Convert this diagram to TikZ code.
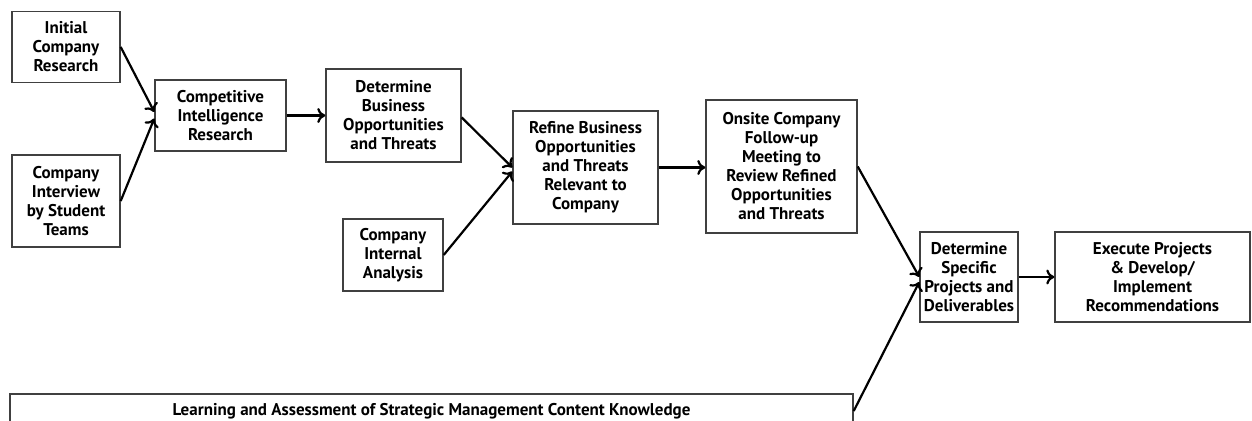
\documentclass[tikz,border=0pt]{standalone}
\usepackage{fontspec}
\setmainfont{PT Sans}
\usetikzlibrary{arrows.meta}
\tikzset{
  stage/.style={draw=black!75, line width=0.7pt, align=center, inner sep=0pt,
    font=\bfseries\fontsize{8.5}{9.5}\selectfont},
  flow/.style={-{To[length=4pt,width=7.5pt]}, line width=1.1pt},
}
\begin{document}
\begin{tikzpicture}[x=0.5pt,y=-0.5pt]
\useasboundingbox (0,0) rectangle (1252,421);
\node [stage, minimum width=54pt, minimum height=35.5pt] (init) at (66,47) {Initial\\Company\\Research};
\node [stage, minimum width=54pt, minimum height=46pt] (interv) at (66,201) {Company\\Interview\\by Student\\Teams};
\node [stage, minimum width=65.5pt, minimum height=35.5pt] (ci) at (220.5,115.5) {Competitive\\Intelligence\\Research};
\node [stage, minimum width=67.5pt, minimum height=46.5pt] (detbus) at (393.5,115.5) {Determine\\Business\\Opportunities\\and Threats};
\node [stage, minimum width=50pt, minimum height=36pt] (internal) at (393,255) {Company\\Internal\\Analysis};
\node [stage, minimum width=72.5pt, minimum height=56.5pt] (refine) at (585.5,167.5) {Refine Business\\Opportunities\\and Threats\\Relevant to\\Company};
\node [stage, minimum width=75.5pt, minimum height=66.5pt] (onsite) at (781.5,166.5) {Onsite Company\\Follow-up\\Meeting to\\Review Refined\\Opportunities\\and Threats};
\node [stage, minimum width=49pt, minimum height=45pt] (detspec) at (969,277) {Determine\\Specific\\Projects and\\Deliverables};
\node [stage, minimum width=97.5pt, minimum height=45pt] (execute) at (1152.5,277) {Execute Projects\\\& Develop/\\Implement\\Recommendations};
\node [stage, minimum width=421.5pt, minimum height=17pt] (learn) at (431.5,411) {Learning and Assessment of Strategic Management Content Knowledge};

\draw [flow] (init.east) -- ([yshift=1.75pt]ci.west);
\draw [flow] (interv.east) -- ([yshift=-1.5pt]ci.west);
\draw [flow] (ci) -- (detbus);
\draw [flow] ([yshift=-1pt]detbus.east) -- (refine.west);
\draw [flow] (internal.east) -- ([yshift=-2pt]refine.west);
\draw [flow] (refine.east) -- (refine.east -| onsite.west);
\draw [flow] (onsite.east) -- (detspec.west);
\draw [flow] (learn.east) -- ([yshift=-2.5pt]detspec.west);
\draw [flow] (detspec) -- (execute);
\end{tikzpicture}
\end{document}
